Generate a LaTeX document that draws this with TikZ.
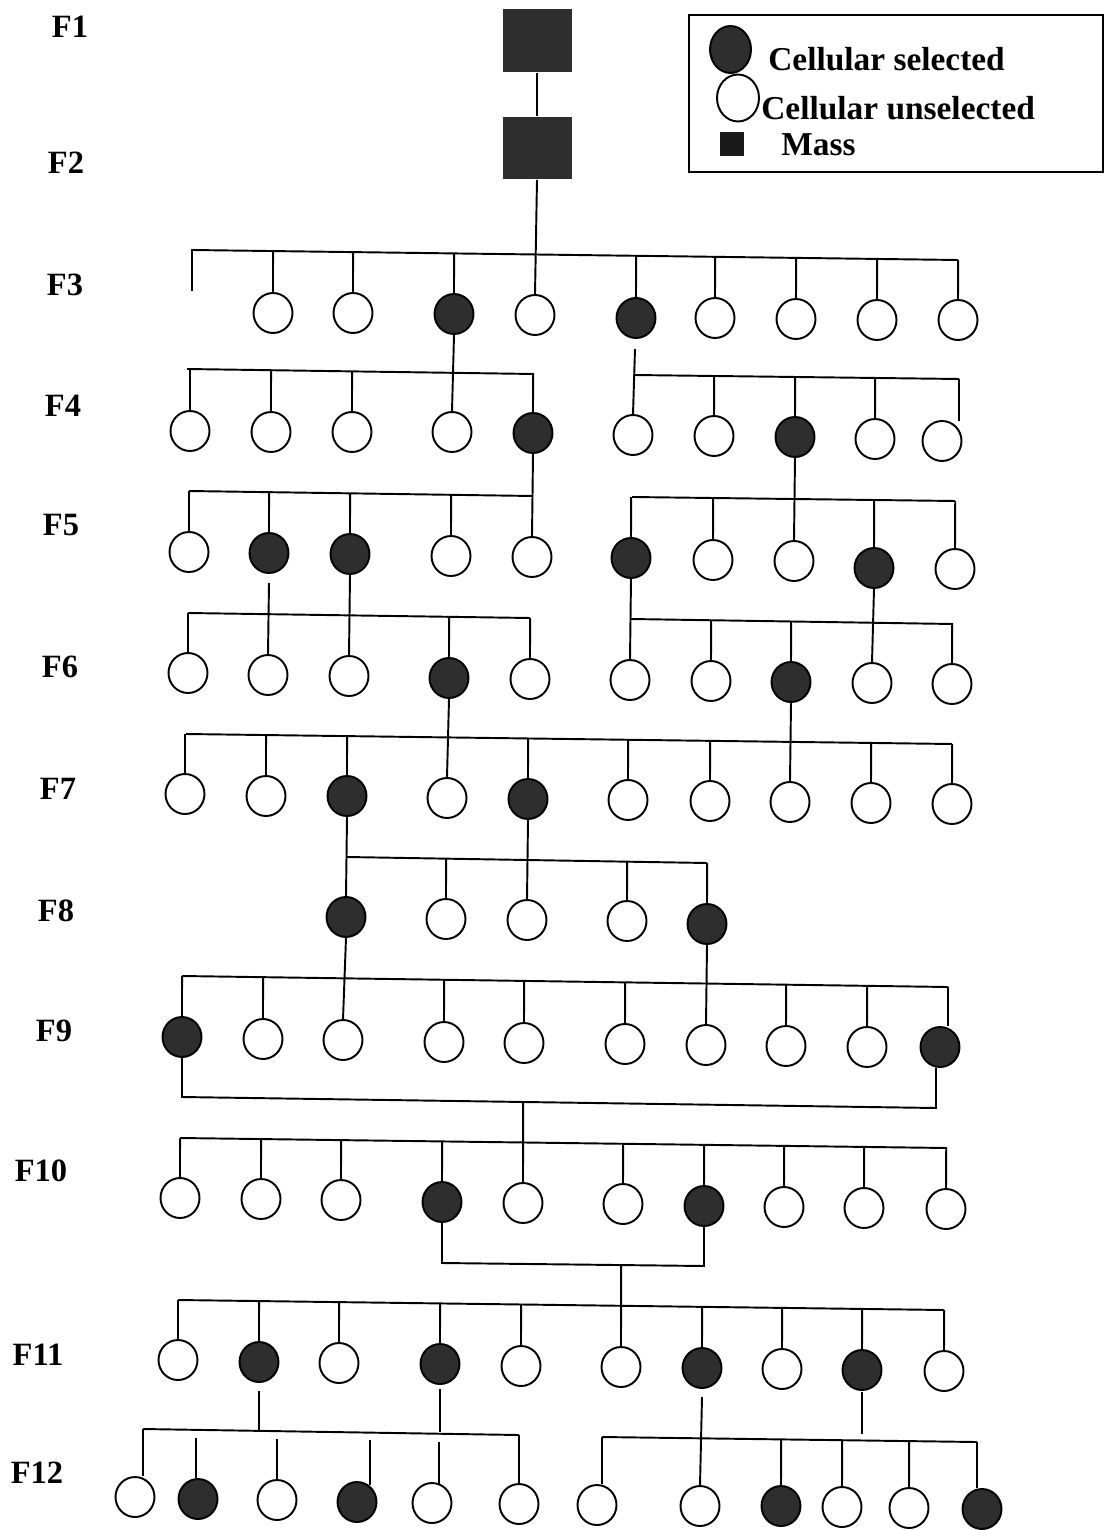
\documentclass[tikz,border=0pt]{standalone}
\usepackage{fontspec}
\setmainfont{Liberation Serif}
\usetikzlibrary{shapes.geometric}
\definecolor{selfill}{HTML}{2E2E2E}
\newcommand{\dropc}[2]{\draw[conn] (intersection of #1L--#1R and #2.north--#2.south) -- (#2.north);}
\begin{document}
\begin{tikzpicture}[x=0.02cm,y=-0.02cm,
 conn/.style={line width=1.1pt},
 cell/.style={ellipse,draw=black,line width=1.1pt,minimum width=0.78cm,minimum height=0.8cm,inner sep=0pt},
 sel/.style={cell,fill=selfill},
 uns/.style={cell,fill=white},
 mass/.style={rectangle,fill=selfill,draw=none,minimum width=1.38cm,minimum height=1.26cm,inner sep=0pt},
 glabel/.style={font=\fontsize{18.5}{20}\selectfont\bfseries,inner sep=0pt},
 legtext/.style={font=\fontsize{19}{22}\selectfont\bfseries,inner sep=0pt,anchor=base west}]
\useasboundingbox (0,0) rectangle (1104,1530);
\fill[white] (0,0) rectangle (1104,1530);

% ---------- generation labels
\node[glabel] (L1) at (70,27) {F1};
\node[glabel] (L2) at (66,163) {F2};
\node[glabel] (L3) at (65,285) {F3};
\node[glabel] (L4) at (63,406) {F4};
\node[glabel] (L5) at (61,525) {F5};
\node[glabel] (L6) at (60,667) {F6};
\node[glabel] (L7) at (58,789) {F7};
\node[glabel] (L8) at (56,911) {F8};
\node[glabel] (L9) at (54,1031) {F9};
\node[glabel] (L10) at (41,1171) {F10};
\node[glabel] (L11) at (38,1355) {F11};
\node[glabel] (L12) at (37,1473) {F12};

% ---------- legend
\node[draw,line width=1.1pt,anchor=north west,minimum width=8.28cm,minimum height=3.14cm,inner sep=0pt] (legend) at (688,14) {};
\node[sel,minimum width=0.82cm,minimum height=0.94cm] (ls) at (730.5,49.5) {};
\node[uns,minimum width=0.84cm,minimum height=0.94cm] (lu) at (738,98) {};
\node[rectangle,fill=black!90,minimum size=0.48cm,inner sep=0pt] (lm) at (732,144) {};
\node[legtext] (lst) at (768,71) {Cellular selected};
\node[legtext] (lut) at (761,120) {Cellular unselected};
\node[legtext] (lmt) at (781,156) {Mass};

% ---------- F1, F2
\node[mass] (m1) at (537,41) {};
\node[mass] (m2) at (537,148) {};
\draw[conn] (m1.south) -- (m2.north);

% ---------- F3
\node[uns] (c3a) at (273,313) {};
\node[uns] (c3b) at (353,313) {};
\node[sel] (c3c) at (454,314) {};
\node[uns] (c3d) at (535,315) {};
\node[sel] (c3e) at (636,318) {};
\node[uns] (c3f) at (715,318) {};
\node[uns] (c3g) at (796,319) {};
\node[uns] (c3h) at (877,320) {};
\node[uns] (c3i) at (958,320) {};
\coordinate (b3L) at (192,250); \coordinate (b3R) at (958,260);
\coordinate (b3x) at (192,291);
\draw[conn] (b3x) -- (b3L) -- (b3R);
\draw[conn] (m2.south) -- (c3d.north);
\dropc{b3}{c3a}\dropc{b3}{c3b}\dropc{b3}{c3c}\dropc{b3}{c3e}
\dropc{b3}{c3f}\dropc{b3}{c3g}\dropc{b3}{c3h}\dropc{b3}{c3i}

% ---------- F4
\node[uns] (c4a) at (190,431) {};
\node[uns] (c4b) at (271,432) {};
\node[uns] (c4c) at (352,432) {};
\node[uns] (c4d) at (452,432) {};
\node[sel] (c4e) at (533,433) {};
\node[uns] (c4f) at (633,435) {};
\node[uns] (c4g) at (714,436) {};
\node[sel] (c4h) at (795,437) {};
\node[uns] (c4i) at (875,439) {};
\node[uns] (c4j) at (942,441) {};
\coordinate (b4lL) at (187,369); \coordinate (b4lR) at (534,374);
\draw[conn] (b4lL) -- (b4lR);
\draw[conn] (c3c.south) -- (c4d.north);
\dropc{b4l}{c4a}\dropc{b4l}{c4b}\dropc{b4l}{c4c}\dropc{b4l}{c4e}
\coordinate (t4r) at (635,349);
\draw[conn] (t4r) -- (c4f.north);
\coordinate (b4rL) at (634,375); \coordinate (b4rR) at (959,379);
\draw[conn] (b4rL) -- (b4rR);
\dropc{b4r}{c4g}\dropc{b4r}{c4h}\dropc{b4r}{c4i}
\coordinate (e4r) at (959,421);
\draw[conn] (b4rR) -- (e4r);

% ---------- F5
\node[uns] (c5a) at (189,552) {};
\node[sel] (c5b) at (269,553) {};
\node[sel] (c5c) at (350,554) {};
\node[uns] (c5d) at (451,556) {};
\node[uns] (c5e) at (532,557) {};
\node[sel] (c5f) at (631,558) {};
\node[uns] (c5g) at (713,560) {};
\node[uns] (c5h) at (794,561) {};
\node[sel] (c5i) at (874,568) {};
\node[uns] (c5j) at (955,569) {};
\coordinate (b5lL) at (189,491); \coordinate (b5lR) at (533,496);
\draw[conn] (b5lL) -- (b5lR);
\draw[conn] (c4e.south) -- (c5e.north);
\dropc{b5l}{c5a}\dropc{b5l}{c5b}\dropc{b5l}{c5c}\dropc{b5l}{c5d}
\coordinate (b5rL) at (632,497); \coordinate (b5rR) at (955,501);
\draw[conn] (b5rL) -- (b5rR);
\draw[conn] (c4h.south) -- (c5h.north);
\dropc{b5r}{c5f}\dropc{b5r}{c5g}\dropc{b5r}{c5i}\dropc{b5r}{c5j}

% ---------- F6
\node[uns] (c6a) at (188,673) {};
\node[uns] (c6b) at (268,675) {};
\node[uns] (c6c) at (349,676) {};
\node[sel] (c6d) at (449,678) {};
\node[uns] (c6e) at (530,679) {};
\node[uns] (c6f) at (630,680) {};
\node[uns] (c6g) at (711,681) {};
\node[sel] (c6h) at (791,682) {};
\node[uns] (c6i) at (872,683) {};
\node[uns] (c6j) at (952,684) {};
\coordinate (b6lL) at (188,613); \coordinate (b6lR) at (530,618);
\draw[conn] (b6lL) -- (b6lR);
\coordinate (t6l) at (269,583);
\draw[conn] (t6l) -- (c6b.north);
\draw[conn] (c5c.south) -- (c6c.north);
\dropc{b6l}{c6a}\dropc{b6l}{c6d}\dropc{b6l}{c6e}
\coordinate (b6rL) at (631,619); \coordinate (b6rR) at (953,624);
\draw[conn] (b6rL) -- (b6rR);
\draw[conn] (c5f.south) -- (c6f.north);
\draw[conn] (c5i.south) -- (c6i.north);
\dropc{b6r}{c6g}\dropc{b6r}{c6h}\dropc{b6r}{c6j}

% ---------- F7
\node[uns] (c7a) at (185,794) {};
\node[uns] (c7b) at (266,796) {};
\node[sel] (c7c) at (347,796) {};
\node[uns] (c7d) at (447,798) {};
\node[sel] (c7e) at (528,799) {};
\node[uns] (c7f) at (628,800) {};
\node[uns] (c7g) at (710,801) {};
\node[uns] (c7h) at (790,802) {};
\node[uns] (c7i) at (871,803) {};
\node[uns] (c7j) at (952,804) {};
\coordinate (b7L) at (186,734); \coordinate (b7R) at (952,744);
\draw[conn] (b7L) -- (b7R);
\draw[conn] (c6d.south) -- (c7d.north);
\draw[conn] (c6h.south) -- (c7h.north);
\dropc{b7}{c7a}\dropc{b7}{c7b}\dropc{b7}{c7c}\dropc{b7}{c7e}
\dropc{b7}{c7f}\dropc{b7}{c7g}\dropc{b7}{c7i}\dropc{b7}{c7j}

% ---------- F8
\node[sel] (c8a) at (346,917) {};
\node[uns] (c8b) at (446,919) {};
\node[uns] (c8c) at (527,920) {};
\node[uns] (c8d) at (627,921) {};
\node[sel] (c8e) at (707,924) {};
\coordinate (b8L) at (347,857); \coordinate (b8R) at (707,863);
\draw[conn] (b8L) -- (b8R);
\draw[conn] (c7c.south) -- (c8a.north);
\draw[conn] (c7e.south) -- (c8c.north);
\dropc{b8}{c8b}\dropc{b8}{c8d}\dropc{b8}{c8e}

% ---------- F9
\node[sel] (c9a) at (182,1037) {};
\node[uns] (c9b) at (263,1039) {};
\node[uns] (c9c) at (343,1040) {};
\node[uns] (c9d) at (444,1042) {};
\node[uns] (c9e) at (524,1043) {};
\node[uns] (c9f) at (625,1044) {};
\node[uns] (c9g) at (706,1045) {};
\node[uns] (c9h) at (786,1046) {};
\node[uns] (c9i) at (867,1047) {};
\node[sel] (c9j) at (940,1047) {};
\coordinate (b9L) at (182,976); \coordinate (b9R) at (948,987);
\draw[conn] (b9L) -- (b9R);
\draw[conn] (c8a.south) -- (c9c.north);
\draw[conn] (c8e.south) -- (c9g.north);
\dropc{b9}{c9a}\dropc{b9}{c9b}\dropc{b9}{c9d}\dropc{b9}{c9e}
\dropc{b9}{c9f}\dropc{b9}{c9h}\dropc{b9}{c9i}
\draw[conn] (b9R) -- (b9R |- c9j.north);
\coordinate (k9L) at (182,1097); \coordinate (k9R) at (936,1108);
\draw[conn] (c9a.south) -- (k9L) -- (k9R) -- (k9R |- c9j.south);

% ---------- F10
\node[uns] (c10a) at (180,1198) {};
\node[uns] (c10b) at (261,1199) {};
\node[uns] (c10c) at (341,1200) {};
\node[sel] (c10d) at (442,1202) {};
\node[uns] (c10e) at (523,1203) {};
\node[uns] (c10f) at (623,1204) {};
\node[sel] (c10g) at (704,1206) {};
\node[uns] (c10h) at (784,1207) {};
\node[uns] (c10i) at (864,1208) {};
\node[uns] (c10j) at (946,1209) {};
\draw[conn] (intersection of k9L--k9R and c10e.north--c10e.south) -- (c10e.north);
\coordinate (b10L) at (180,1138); \coordinate (b10R) at (947,1148);
\draw[conn] (b10L) -- (b10R);
\dropc{b10}{c10a}\dropc{b10}{c10b}\dropc{b10}{c10c}\dropc{b10}{c10d}
\dropc{b10}{c10f}\dropc{b10}{c10g}\dropc{b10}{c10h}\dropc{b10}{c10i}\dropc{b10}{c10j}
\coordinate (k10L) at (442,1263); \coordinate (k10R) at (704,1266);
\draw[conn] (c10d.south) -- (k10L) -- (k10R) -- (c10g.south);

% ---------- F11
\node[uns] (c11a) at (178,1360) {};
\node[sel] (c11b) at (259,1362) {};
\node[uns] (c11c) at (339,1363) {};
\node[sel] (c11d) at (440,1364) {};
\node[uns] (c11e) at (521,1366) {};
\node[uns] (c11f) at (621,1367) {};
\node[sel] (c11g) at (702,1368) {};
\node[uns] (c11h) at (782,1369) {};
\node[sel] (c11i) at (862,1370) {};
\node[uns] (c11j) at (944,1371) {};
\draw[conn] (intersection of k10L--k10R and c11f.north--c11f.south) -- (c11f.north);
\coordinate (b11L) at (178,1300); \coordinate (b11R) at (944,1310);
\draw[conn] (b11L) -- (b11R);
\dropc{b11}{c11a}\dropc{b11}{c11b}\dropc{b11}{c11c}\dropc{b11}{c11d}\dropc{b11}{c11e}
\dropc{b11}{c11g}\dropc{b11}{c11h}\dropc{b11}{c11i}\dropc{b11}{c11j}

% ---------- F12
\node[uns] (c12a) at (135,1497) {};
\node[sel] (c12b) at (198,1499) {};
\node[uns] (c12c) at (277,1500) {};
\node[sel] (c12d) at (357,1502) {};
\node[uns] (c12e) at (432,1503) {};
\node[uns] (c12f) at (519,1504) {};
\node[uns] (c12g) at (597,1505) {};
\node[uns] (c12h) at (700,1506) {};
\node[sel] (c12i) at (781,1506) {};
\node[uns] (c12j) at (842,1507) {};
\node[uns] (c12k) at (909,1508) {};
\node[sel] (c12l) at (982,1509) {};
% left family
\coordinate (b12lL) at (143,1429); \coordinate (b12lR) at (519,1435);
\draw[conn] (b12lL) -- (b12lR);
\coordinate (t12b) at (259,1391); \coordinate (u12b) at (259,1431);
\draw[conn] (t12b) -- (u12b);
\coordinate (t12d) at (440,1389); \coordinate (u12d) at (440,1432);
\draw[conn] (t12d) -- (u12d);
\draw[conn] (b12lL) -- (b12lL |- c12a.north);
\coordinate (s12b) at (196,1438); \draw[conn] (s12b) -- (s12b |- c12b.north);
\coordinate (s12c) at (277,1439); \draw[conn] (s12c) -- (c12c.north);
\coordinate (s12d) at (370,1440); \coordinate (e12d) at (370,1485);
\draw[conn] (s12d) -- (e12d);
\coordinate (s12e) at (439,1442); \coordinate (e12e) at (439,1484);
\draw[conn] (s12e) -- (e12e);
\draw[conn] (b12lR) -- (c12f.north);
% right family
\coordinate (b12rL) at (602,1437); \coordinate (b12rR) at (977,1442);
\draw[conn] (b12rL) -- (b12rR);
\coordinate (t12g) at (702,1397);
\draw[conn] (t12g) -- (c12h.north);
\coordinate (t12i) at (862,1392); \coordinate (u12i) at (862,1434);
\draw[conn] (t12i) -- (u12i);
\draw[conn] (b12rL) -- (b12rL |- c12g.north);
\dropc{b12r}{c12i}\dropc{b12r}{c12j}\dropc{b12r}{c12k}
\draw[conn] (b12rR) -- (b12rR |- c12l.north);
\end{tikzpicture}
\end{document}
